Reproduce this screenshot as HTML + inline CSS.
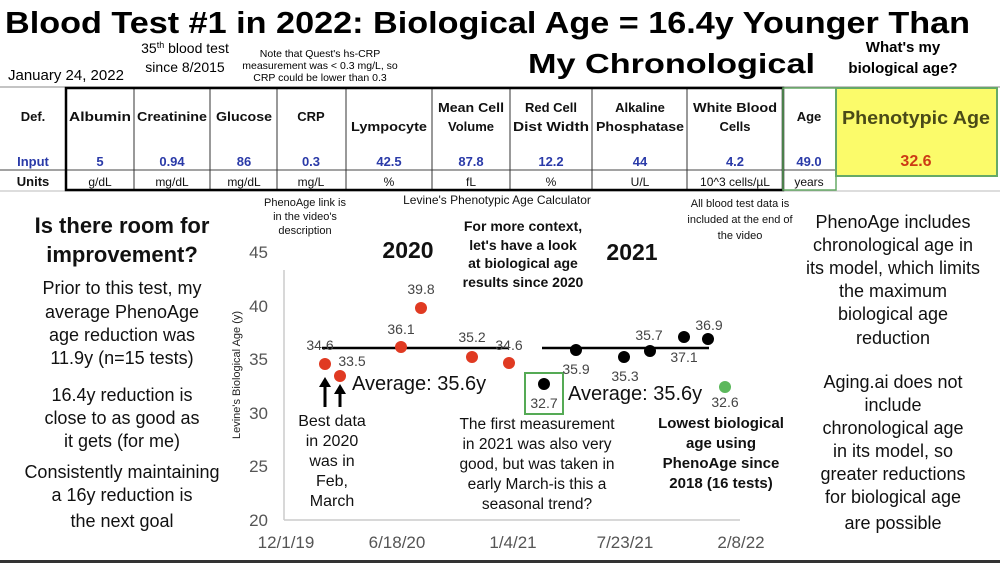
<!DOCTYPE html>
<html><head><meta charset="utf-8"><style>
html,body{margin:0;padding:0;background:#fff;}
svg{display:block;font-family:"Liberation Sans",Arial,sans-serif;}
</style></head><body>
<svg width="1000" height="563" viewBox="0 0 1000 563" xmlns="http://www.w3.org/2000/svg">
<rect width="1000" height="563" fill="#fff"/>
<!-- Title -->
<text x="5" y="33" font-size="31" font-weight="bold" textLength="965" lengthAdjust="spacingAndGlyphs">Blood Test #1 in 2022: Biological Age = 16.4y Younger Than</text>
<text x="528" y="73" font-size="28" font-weight="bold" textLength="287" lengthAdjust="spacingAndGlyphs">My Chronological</text>
<g text-anchor="middle">
<text x="185" y="53" font-size="14">35<tspan font-size="9" dy="-5">th</tspan><tspan dy="5"> blood test</tspan></text>
<text x="185" y="72" font-size="14">since 8/2015</text>
<text x="320" y="57" font-size="10.5">Note that Quest's hs-CRP</text>
<text x="320" y="69" font-size="10.5">measurement was &lt; 0.3 mg/L, so</text>
<text x="320" y="81" font-size="10.5">CRP could be lower than 0.3</text>
<text x="903" y="52" font-size="15" font-weight="bold">What's my</text>
<text x="903" y="73" font-size="15" font-weight="bold">biological age?</text>
</g>
<text x="8" y="80" font-size="15">January 24, 2022</text>

<!-- Table -->
<rect x="836" y="87" width="161" height="89" fill="#fbfb6a"/>
<line x1="0" y1="87" x2="1000" y2="87" stroke="#888" stroke-width="1"/>
<line x1="0" y1="191" x2="1000" y2="191" stroke="#bbb" stroke-width="1"/>
<line x1="0" y1="170" x2="836" y2="170" stroke="#444" stroke-width="1"/>
<g stroke="#333" stroke-width="1">
<line x1="134" y1="87" x2="134" y2="191"/><line x1="210" y1="87" x2="210" y2="191"/>
<line x1="277" y1="87" x2="277" y2="191"/><line x1="346" y1="87" x2="346" y2="191"/>
<line x1="432" y1="87" x2="432" y2="191"/><line x1="510" y1="87" x2="510" y2="191"/>
<line x1="592" y1="87" x2="592" y2="191"/><line x1="687" y1="87" x2="687" y2="191"/>
</g>
<rect x="66" y="88" width="717" height="102" fill="none" stroke="#000" stroke-width="2.5"/>
<rect x="783" y="88" width="53" height="102" fill="none" stroke="#6a6" stroke-width="1.5"/>
<rect x="836" y="88" width="161" height="88" fill="none" stroke="#6a6" stroke-width="2"/>
<g text-anchor="middle" font-size="13" font-weight="bold" fill="#111">
<text x="33" y="121">Def.</text>
<text x="100" y="121" textLength="62" lengthAdjust="spacingAndGlyphs">Albumin</text>
<text x="172" y="121" textLength="70" lengthAdjust="spacingAndGlyphs">Creatinine</text>
<text x="244" y="121" textLength="56" lengthAdjust="spacingAndGlyphs">Glucose</text>
<text x="311" y="121">CRP</text>
<text x="389" y="131" textLength="76" lengthAdjust="spacingAndGlyphs">Lympocyte</text>
<text x="471" y="112" textLength="66" lengthAdjust="spacingAndGlyphs">Mean Cell</text>
<text x="471" y="131">Volume</text>
<text x="551" y="112">Red Cell</text>
<text x="551" y="131" textLength="76" lengthAdjust="spacingAndGlyphs">Dist Width</text>
<text x="640" y="112">Alkaline</text>
<text x="640" y="131" textLength="88" lengthAdjust="spacingAndGlyphs">Phosphatase</text>
<text x="735" y="112" textLength="84" lengthAdjust="spacingAndGlyphs">White Blood</text>
<text x="735" y="131">Cells</text>
<text x="809" y="121">Age</text>
<text x="916" y="124" font-size="18" fill="#4a4a18" textLength="148" lengthAdjust="spacingAndGlyphs">Phenotypic Age</text>
</g>
<g text-anchor="middle" font-size="13" font-weight="bold" fill="#2a3aa8">
<text x="33" y="166">Input</text><text x="100" y="166">5</text><text x="172" y="166">0.94</text>
<text x="244" y="166">86</text><text x="311" y="166">0.3</text><text x="389" y="166">42.5</text>
<text x="471" y="166">87.8</text><text x="551" y="166">12.2</text><text x="640" y="166">44</text>
<text x="735" y="166">4.2</text><text x="809" y="166">49.0</text>
<text x="916" y="166" font-size="16" fill="#cc3a14">32.6</text>
</g>
<g text-anchor="middle" font-size="12" fill="#111">
<text x="33" y="186" font-weight="bold" font-size="13">Units</text><text x="100" y="186">g/dL</text><text x="172" y="186">mg/dL</text>
<text x="244" y="186">mg/dL</text><text x="311" y="186">mg/L</text><text x="389" y="186">%</text>
<text x="471" y="186">fL</text><text x="551" y="186">%</text><text x="640" y="186">U/L</text>
<text x="735" y="186">10^3 cells/µL</text><text x="809" y="186">years</text>
</g>

<!-- Left text -->
<g text-anchor="middle" fill="#111">
<text x="122" y="233" font-size="22" font-weight="bold">Is there room for</text>
<text x="122" y="262" font-size="22" font-weight="bold">improvement?</text>
<g font-size="18">
<text x="122" y="294">Prior to this test, my</text>
<text x="122" y="318">average PhenoAge</text>
<text x="122" y="341">age reduction was</text>
<text x="122" y="364">11.9y (n=15 tests)</text>
<text x="122" y="401">16.4y reduction is</text>
<text x="122" y="424">close to as good as</text>
<text x="122" y="447">it gets (for me)</text>
<text x="122" y="478">Consistently maintaining</text>
<text x="122" y="501">a 16y reduction is</text>
<text x="122" y="527">the next goal</text>
</g>
<!-- Right text -->
<g font-size="18">
<text x="893" y="228">PhenoAge includes</text>
<text x="893" y="251">chronological age in</text>
<text x="893" y="274">its model, which limits</text>
<text x="893" y="297">the maximum</text>
<text x="893" y="320">biological age</text>
<text x="893" y="344">reduction</text>
<text x="893" y="388">Aging.ai does not</text>
<text x="893" y="411">include</text>
<text x="893" y="434">chronological age</text>
<text x="893" y="457">in its model, so</text>
<text x="893" y="480">greater reductions</text>
<text x="893" y="503">for biological age</text>
<text x="893" y="529">are possible</text>
</g>
<!-- chart annotations -->
<g font-size="11">
<text x="305" y="206">PhenoAge link is</text>
<text x="305" y="220">in the video's</text>
<text x="305" y="234">description</text>
<text x="740" y="207">All blood test data is</text>
<text x="740" y="223">included at the end of</text>
<text x="740" y="239">the video</text>
</g>
<text x="497" y="204" font-size="12">Levine's Phenotypic Age Calculator</text>
<g font-size="14" font-weight="bold">
<text x="523" y="231">For more context,</text>
<text x="523" y="250">let's have a look</text>
<text x="523" y="268">at biological age</text>
<text x="523" y="287">results since 2020</text>
</g>
<text x="408" y="258" font-size="23" font-weight="bold">2020</text>
<text x="632" y="260" font-size="23" font-weight="bold">2021</text>
</g>

<!-- Axes -->
<line x1="284" y1="270" x2="284" y2="520" stroke="#ccc" stroke-width="1.5"/>
<line x1="284" y1="520" x2="740" y2="520" stroke="#ccc" stroke-width="1.5"/>
<g font-size="17" fill="#555" text-anchor="end">
<text x="268" y="258">45</text><text x="268" y="312">40</text><text x="268" y="365">35</text>
<text x="268" y="419">30</text><text x="268" y="472">25</text><text x="268" y="526">20</text>
</g>
<text transform="translate(240,375) rotate(-90)" font-size="11" text-anchor="middle" fill="#222">Levine's Biological Age (y)</text>
<g font-size="17" fill="#555" text-anchor="middle">
<text x="286" y="548">12/1/19</text><text x="397" y="548">6/18/20</text><text x="513" y="548">1/4/21</text>
<text x="625" y="548">7/23/21</text><text x="741" y="548">2/8/22</text>
</g>

<!-- average lines -->
<line x1="322" y1="348" x2="509" y2="348" stroke="#000" stroke-width="2.5"/>
<line x1="542" y1="348" x2="709" y2="348" stroke="#000" stroke-width="2.5"/>
<!-- points -->
<g fill="#e03a22">
<circle cx="325" cy="364" r="6"/><circle cx="340" cy="376" r="6"/><circle cx="401" cy="347" r="6"/>
<circle cx="421" cy="308" r="6"/><circle cx="472" cy="357" r="6"/><circle cx="509" cy="363" r="6"/>
</g>
<g fill="#000">
<circle cx="544" cy="384" r="6"/><circle cx="576" cy="350" r="6"/><circle cx="624" cy="357" r="6"/>
<circle cx="650" cy="351" r="6"/><circle cx="684" cy="337" r="6"/><circle cx="708" cy="339" r="6"/>
</g>
<circle cx="725" cy="387" r="6" fill="#5cb85c"/>
<rect x="525" y="373" width="38" height="41" fill="none" stroke="#5a5" stroke-width="2"/>
<g font-size="14" fill="#444" text-anchor="middle">
<text x="320" y="350">34.6</text><text x="352" y="366">33.5</text><text x="401" y="334">36.1</text>
<text x="421" y="294">39.8</text><text x="472" y="342">35.2</text><text x="509" y="350">34.6</text>
<text x="576" y="374">35.9</text><text x="625" y="381">35.3</text><text x="649" y="340">35.7</text>
<text x="684" y="362">37.1</text><text x="709" y="330">36.9</text><text x="544" y="408">32.7</text>
<text x="725" y="407">32.6</text>
</g>
<text x="352" y="390" font-size="20" fill="#111">Average: 35.6y</text>
<text x="568" y="400" font-size="20" fill="#111">Average: 35.6y</text>
<!-- arrows -->
<g stroke="#000" stroke-width="3"><line x1="325" y1="386" x2="325" y2="407"/><line x1="340" y1="393" x2="340" y2="407"/></g>
<polygon points="319,387 331,387 325,377" fill="#000"/>
<polygon points="334,394 346,394 340,384" fill="#000"/>
<g text-anchor="middle" fill="#111">
<g font-size="16">
<text x="332" y="426">Best data</text><text x="332" y="446">in 2020</text><text x="332" y="466">was in</text>
<text x="332" y="486">Feb,</text><text x="332" y="506">March</text>
</g>
<g font-size="15.5">
<text x="537" y="429">The first measurement</text><text x="537" y="449">in 2021 was also very</text>
<text x="537" y="469">good, but was taken in</text><text x="537" y="489">early March-is this a</text>
<text x="537" y="509">seasonal trend?</text>
</g>
<g font-size="15" font-weight="bold">
<text x="721" y="428">Lowest biological</text><text x="721" y="448">age using</text>
<text x="721" y="468">PhenoAge since</text><text x="721" y="488">2018 (16 tests)</text>
</g>
</g>
<line x1="0" y1="561.5" x2="1000" y2="561.5" stroke="#333" stroke-width="3"/>
</svg>
</body></html>
